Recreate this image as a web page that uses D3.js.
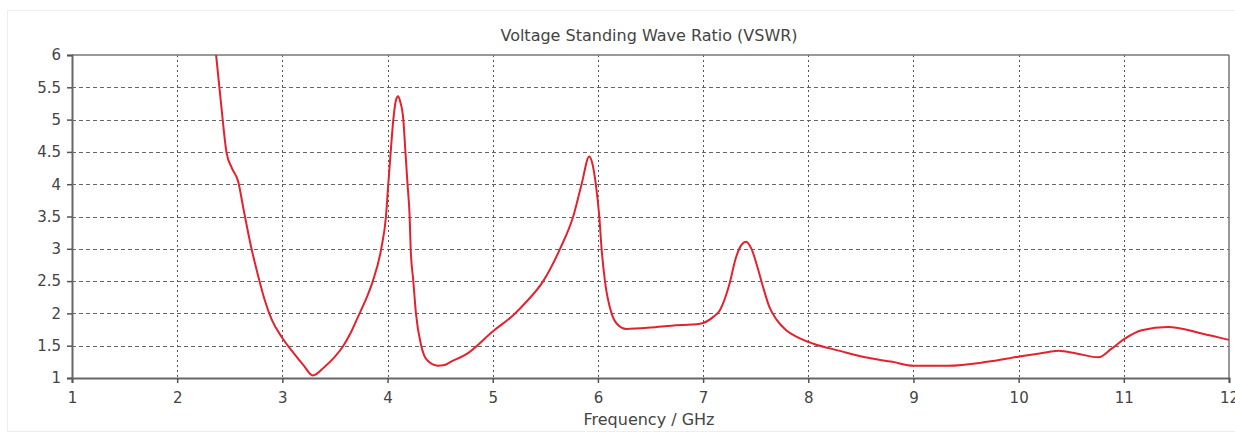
<!DOCTYPE html>
<html><head><meta charset="utf-8">
<script src="https://cdn.jsdelivr.net/npm/d3@7"></script>
<style>body{margin:0;background:#fff;}svg{display:block;font-family:"DejaVu Sans",Verdana,sans-serif;}</style>
</head><body><svg id="c" width="1235" height="433"></svg>
<script>
const title = "Voltage Standing Wave Ratio (VSWR)";
const xLabel = "Frequency / GHz";
const xTicks = [1,2,3,4,5,6,7,8,9,10,11,12];
const yTicks = [1,1.5,2,2.5,3,3.5,4,4.5,5,5.5,6];
const freq = [2.37,2.42,2.47,2.52,2.58,2.63,2.70,2.77,2.83,2.90,3.00,3.10,3.20,3.29,3.40,3.50,3.58,3.65,3.72,3.79,3.86,3.94,3.985,4.007,4.03,4.055,4.08,4.10,4.12,4.15,4.17,4.19,4.21,4.22,4.245,4.27,4.32,4.38,4.48,4.54,4.60,4.75,5.00,5.20,5.32,5.48,5.64,5.765,5.845,5.918,5.95,5.98,6.013,6.035,6.067,6.13,6.18,6.27,6.50,6.70,6.97,7.10,7.16,7.25,7.31,7.36,7.41,7.46,7.52,7.57,7.63,7.70,7.79,7.90,8.05,8.30,8.54,8.80,9.00,9.33,9.70,10.00,10.20,10.38,10.55,10.76,10.88,11.01,11.17,11.42,11.74,12.00];
const vswr = [6.00,5.20,4.48,4.25,4.04,3.62,3.05,2.58,2.22,1.90,1.62,1.40,1.20,1.04,1.17,1.33,1.50,1.70,1.95,2.20,2.50,3.00,3.50,4.00,4.50,5.00,5.30,5.36,5.28,5.00,4.50,4.00,3.50,3.00,2.50,2.00,1.50,1.27,1.19,1.20,1.25,1.37,1.72,1.98,2.18,2.50,3.00,3.50,4.00,4.43,4.30,4.00,3.50,3.00,2.50,2.00,1.84,1.76,1.78,1.81,1.84,1.95,2.05,2.45,2.85,3.05,3.11,3.00,2.70,2.41,2.10,1.90,1.74,1.63,1.53,1.42,1.32,1.25,1.19,1.19,1.25,1.33,1.38,1.42,1.38,1.32,1.45,1.61,1.74,1.79,1.69,1.59];

const svg = d3.select("#c");
const L=72, R=1229, T=55, B=378;
const x = d3.scaleLinear().domain([1,12]).range([L,R]);
const y = d3.scaleLinear().domain([1,6]).range([B,T]);

svg.append("rect").attr("x",7.5).attr("y",10.5).attr("width",1240).attr("height",421)
  .attr("fill","none").attr("stroke","#eeeeee");

const g = svg.append("g");
g.selectAll(".hg").data(yTicks.filter(v=>v>1&&v<6)).join("line")
  .attr("x1",L).attr("x2",R).attr("y1",d=>Math.round(y(d))+0.5).attr("y2",d=>Math.round(y(d))+0.5)
  .attr("stroke","#666").attr("stroke-width",1).attr("stroke-dasharray","4,3");
g.selectAll(".vg").data(xTicks.filter(v=>v>1&&v<12)).join("line")
  .attr("y1",T).attr("y2",B).attr("x1",d=>Math.round(x(d))+0.5).attr("x2",d=>Math.round(x(d))+0.5)
  .attr("stroke","#555").attr("stroke-width",1).attr("stroke-dasharray","2,3");

svg.append("line").attr("x1",L).attr("x2",R).attr("y1",T).attr("y2",T).attr("stroke","#777").attr("stroke-width",1.5);
svg.append("line").attr("x1",R).attr("x2",R).attr("y1",T).attr("y2",B).attr("stroke","#777").attr("stroke-width",1.5);

const xa = svg.append("g").attr("transform",`translate(0,${B})`)
  .call(d3.axisBottom(x).tickValues(xTicks).tickFormat(d3.format("d")).tickSize(5).tickPadding(9));
const ya = svg.append("g").attr("transform",`translate(${L},0)`)
  .call(d3.axisLeft(y).tickValues(yTicks).tickFormat(d=>String(d)).tickSize(5).tickPadding(6));
[xa,ya].forEach(a=>{
  a.select(".domain").attr("stroke","#666").attr("stroke-width",2);
  a.selectAll(".tick line").attr("stroke","#555").attr("stroke-width",1.5);
  a.selectAll(".tick text").attr("fill","#444").style("font-size","15px").style("font-family","DejaVu Sans, sans-serif");
});

const pts = freq.map((f,i)=>[f,vswr[i]]);
svg.append("path").datum(pts)
  .attr("fill","none").attr("stroke","#e3222e").attr("stroke-width",2)
  .attr("d", d3.line().x(d=>x(d[0])).y(d=>y(d[1])).curve(d3.curveMonotoneX));

svg.append("text").attr("x",649).attr("y",41).attr("text-anchor","middle")
  .attr("fill","#444").style("font-size","16px").text(title);
svg.append("text").attr("x",649).attr("y",425).attr("text-anchor","middle")
  .attr("fill","#444").style("font-size","16px").text(xLabel);
</script></body></html>
